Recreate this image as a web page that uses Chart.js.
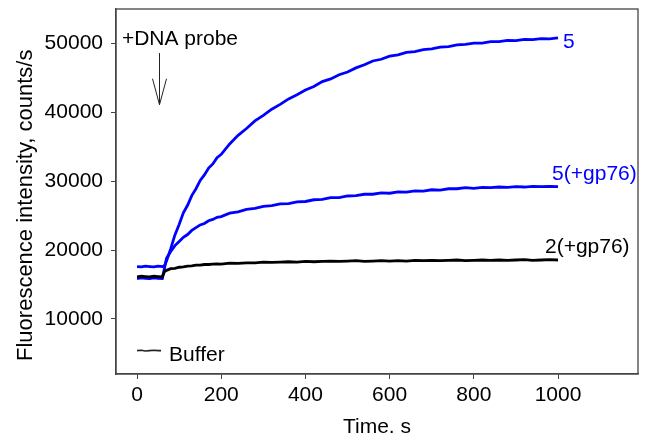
<!DOCTYPE html>
<html lang="en">
<head>
  <meta charset="UTF-8" />
  <title>Fluorescence kinetics</title>
  <script src="https://cdn.jsdelivr.net/npm/chart.js"></script>
  <style>
    html, body { margin: 0; padding: 0; background: #fff; }
    .wrap { width: 650px; height: 436px; }
  </style>
</head>
<body>
  <div class="wrap"><canvas id="kinetics"></canvas></div>

  <script>
    // time points, s
    const times = [
      0, 10, 20, 30, 40, 50, 60, 65, 70, 80, 90, 100, 110, 120, 130, 140, 150, 160, 170, 180, 190, 200,
      220, 240, 260, 280, 300, 320, 340, 360, 380, 400, 420, 440, 460, 480, 500, 520, 540, 560, 580, 600,
      620, 640, 660, 680, 700, 720, 740, 760, 780, 800, 820, 840, 860, 880, 900, 920, 940, 960, 980, 1000
    ];

    // fluorescence, counts/s
    const trace5 = [
      17600, 17550, 17650, 17600, 17550, 17650, 17600, 17700, 18400, 20200, 22200, 23700, 25400, 26500, 27900, 28900, 30100, 30900, 31900, 32500, 33400, 33900,
      35400, 36650, 37650, 38750, 39550, 40450, 41150, 41950, 42550, 43250, 43750, 44450, 44850, 45450, 45850, 46450, 46900, 47450, 47700, 48150,
      48350, 48700, 48800, 49100, 49200, 49450, 49550, 49800, 49850, 50050, 50050, 50250, 50250, 50450, 50400, 50600, 50550, 50700, 50650, 50800
    ];
    const trace5gp76 = [
      15850, 15950, 15900, 15850, 15950, 15900, 15850, 17300, 18800, 19800, 20650, 21250, 21850, 22250, 22850, 23250, 23650, 23850, 24250, 24450, 24750, 24850,
      25350, 25550, 25900, 26050, 26350, 26450, 26700, 26750, 27000, 27050, 27300, 27350, 27600, 27600, 27850, 27900, 28100, 28100, 28300, 28250,
      28450, 28400, 28600, 28550, 28750, 28700, 28900, 28900, 29050, 28950, 29100, 29050, 29150, 29100, 29200, 29150, 29250, 29200, 29250, 29200
    ];
    const trace2gp76 = [
      16100, 16200, 16150, 16100, 16200, 16150, 16100, 16850, 17050, 17300, 17350, 17500, 17550, 17650, 17700, 17800, 17800, 17900, 17900, 17950, 18000, 17950,
      18100, 18050, 18150, 18150, 18250, 18200, 18250, 18300, 18250, 18350, 18300, 18350, 18400, 18350, 18400, 18450, 18350, 18400, 18450, 18400,
      18450, 18400, 18500, 18450, 18500, 18450, 18500, 18550, 18450, 18500, 18550, 18500, 18550, 18500, 18550, 18600, 18500, 18550, 18600, 18550
    ];
    const bufferTimes = [0, 10, 20, 30, 40, 50, 57];
    const bufferValues = [5400, 5450, 5350, 5400, 5450, 5400, 5400];

    const xTicks = [0, 200, 400, 600, 800, 1000];
    const yTicks = [10000, 20000, 30000, 40000, 50000];

    const FONT = "'Liberation Sans', Arial, sans-serif";
    const BLUE = "#0000ff";

    const toPoints = (xs, ys) => xs.map((x, i) => ({ x: x, y: ys[i] }));

    // text labels, y title and the probe arrow
    const annotations = {
      id: "annotations",
      afterDatasetsDraw(chart) {
        const { ctx, scales: { x, y } } = chart;
        const labels = [
          { text: "5", t: 1012, v: 49300, color: BLUE },
          { text: "5(+gp76)", t: 986, v: 30170, color: BLUE },
          { text: "2(+gp76)", t: 969, v: 19570, color: "#000" },
          { text: "Buffer", t: 76, v: 3890, color: "#000" },
          { text: "+DNA probe", t: -36, v: 49770, color: "#000" }
        ];
        ctx.save();
        ctx.font = "21px " + FONT;
        ctx.textAlign = "left";
        ctx.textBaseline = "alphabetic";
        labels.forEach(l => {
          ctx.fillStyle = l.color;
          ctx.fillText(l.text, x.getPixelForValue(l.t), y.getPixelForValue(l.v));
        });

        // arrow at probe addition
        const ax = Math.round(x.getPixelForValue(52)) + 0.5;
        const y0 = y.getPixelForValue(48600);
        const y1 = y.getPixelForValue(41100);
        ctx.strokeStyle = "#222";
        ctx.lineWidth = 1;
        ctx.beginPath();
        ctx.moveTo(ax, y0);
        ctx.lineTo(ax, y1);
        ctx.moveTo(ax - 7, y1 - 26);
        ctx.lineTo(ax, y1);
        ctx.lineTo(ax + 7, y1 - 26);
        ctx.stroke();

        // frame around the plot
        const a = chart.chartArea;
        ctx.strokeStyle = "#444";
        ctx.lineWidth = 1.3;
        ctx.strokeRect(a.left, a.top, a.right - a.left, a.bottom - a.top);

        // y axis title, sits a little below the plot centre in the original
        ctx.translate(26, y.getPixelForValue(26500));
        ctx.rotate(-Math.PI / 2);
        ctx.font = "22px " + FONT;
        ctx.fillStyle = "#000";
        ctx.textAlign = "center";
        ctx.textBaseline = "middle";
        ctx.fillText("Fluorescence intensity, counts/s", 0, 0);
        ctx.restore();
      }
    };

    new Chart(document.getElementById("kinetics"), {
      type: "line",
      data: {
        datasets: [
          {
            label: "2(+gp76)",
            data: toPoints(times, trace2gp76),
            borderColor: "#000",
            borderWidth: 2.8
          },
          {
            label: "5(+gp76)",
            data: toPoints(times, trace5gp76),
            borderColor: BLUE,
            borderWidth: 2.8
          },
          {
            label: "5",
            data: toPoints(times, trace5),
            borderColor: BLUE,
            borderWidth: 2.8
          },
          {
            label: "Buffer",
            data: toPoints(bufferTimes, bufferValues),
            borderColor: "#222",
            borderWidth: 1.6
          }
        ]
      },
      options: {
        responsive: true,
        maintainAspectRatio: false,
        animation: false,
        layout: { padding: { top: 9, right: 12, left: 0, bottom: 0 } },
        elements: { point: { radius: 0 }, line: { tension: 0 } },
        plugins: {
          legend: { display: false },
          tooltip: { enabled: false }
        },
        scales: {
          x: {
            type: "linear",
            min: -50,
            max: 1190,
            afterBuildTicks: s => { s.ticks = xTicks.map(v => ({ value: v })); },
            afterFit: s => {
              s.height = 62;
              s.paddingLeft = 0;
              s.paddingRight = 0;
            },
            grid: { drawOnChartArea: false, tickLength: 5, color: "#444" },
            border: { color: "#444", width: 1.3 },
            ticks: {
              color: "#000",
              font: { family: FONT, size: 21 },
              padding: 4,
              maxRotation: 0,
              autoSkip: false,
              callback: v => String(v)
            },
            title: {
              display: true,
              text: "Time. s",
              color: "#000",
              font: { family: FONT, size: 21, lineHeight: 0.8 },
              padding: 0
            }
          },
          y: {
            min: 2000,
            max: 55000,
            afterBuildTicks: s => { s.ticks = yTicks.map(v => ({ value: v })); },
            afterFit: s => {
              s.width = 116;
              s.paddingTop = 0;
              s.paddingBottom = 0;
            },
            grid: { drawOnChartArea: false, tickLength: 5, color: "#444" },
            border: { color: "#444", width: 1.3 },
            ticks: {
              color: "#000",
              font: { family: FONT, size: 21 },
              padding: 8,
              autoSkip: false,
              callback: v => String(v)
            }
          }
        }
      },
      plugins: [annotations]
    });
  </script>
</body>
</html>
